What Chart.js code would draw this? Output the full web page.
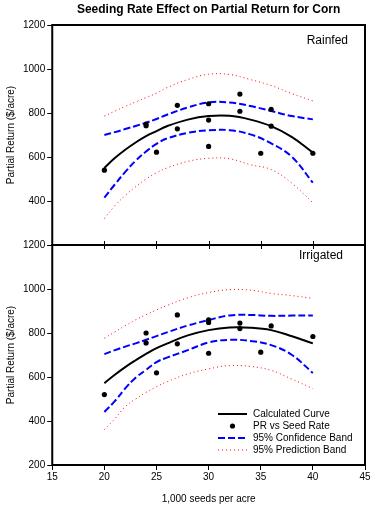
<!DOCTYPE html>
<html><head><meta charset="utf-8">
<script src="https://cdn.jsdelivr.net/npm/chart.js@4.4.1/dist/chart.umd.min.js"></script>
<style>html,body{margin:0;padding:0;background:#fff;}canvas{display:block;}</style>
</head><body>
<canvas id="c" width="384" height="505"></canvas>
<script>
// ---- data ----
const curveX = [20,21,22,23,24,25,26,28,30,32,34,36,38,40];

const rainCurve   = [550,595,633,666,695,718,740,770,786,787,770,740,690,620];
const rainUpperCB = [700,713,727,741,756,773,792,825,848,848,832,809,786,771];
const rainLowerCB = [415,475,532,583,625,660,684,710,721,722,703,662,600,483];
const rainUpperPB = [786,808,830,850,870,890,915,952,976,975,952,925,888,855];
const rainLowerPB = [320,378,425,465,500,528,550,580,594,592,565,543,480,392];
const rainPtX = [20,24,24,25,27,27,30,30,30,33,33,35,36,36,40];
const rainPtY = [540,742,750,622,835,728,842,768,648,886,808,617,817,740,617];

const irrCurve   = [572,610,645,676,705,731,752,789,813,825,824,813,785,753];
const irrUpperCB = [704,722,738,753,769,786,803,834,859,880,882,878,879,880];
const irrLowerCB = [441,490,548,597,632,668,688,722,757,769,764,745,700,618];
const irrUpperPB = [776,805,833,860,883,905,925,960,984,997,995,980,970,957];
const irrLowerPB = [361,410,465,500,530,556,578,614,637,652,648,630,590,547];
const irrPtX = [20,24,24,25,27,27,30,30,30,33,33,35,36,40];
const irrPtY = [520,800,755,619,882,751,860,848,708,845,820,713,832,784];

const xTicks = [15,20,25,30,35,40,45];
const yTicks = [200,400,600,800,1000,1200];

const titleText = 'Seeding Rate Effect on Partial Return for Corn';
const yTitle = 'Partial Return ($/acre)';
const xTitle = '1,000 seeds per acre';
const panelNames = ['Rainfed','Irrigated'];
const legendLabels = ['Calculated Curve','PR vs Seed Rate','95% Confidence Band','95% Prediction Band'];

// ---- styles ----
const FONT = '"Liberation Sans", Arial, sans-serif';
const styles = {
  curve: {borderColor:'#000', borderWidth:2, borderDash:[]},
  cb:    {borderColor:'#0000ff', borderWidth:2, borderDash:[7,3]},
  pb:    {borderColor:'#ff0000', borderWidth:1, borderDash:[1,3]}
};
function pts(xs, ys){ return xs.map((x,i)=>({x:x, y:ys[i]})); }
function lineDs(ys, axis, st){
  return Object.assign({type:'line', data:pts(curveX, ys), yAxisID:axis, xAxisID:'x',
    pointRadius:0, tension:0.4, fill:false}, st);
}
function ptDs(xs, ys, axis){
  return {type:'scatter', data:pts(xs, ys), yAxisID:axis, xAxisID:'x', showLine:false,
    pointRadius:2.6, pointBackgroundColor:'#000', pointBorderColor:'#000', pointBorderWidth:0};
}
const datasets = [
  ptDs(rainPtX, rainPtY, 'yTop'),
  lineDs(rainCurve, 'yTop', styles.curve),
  lineDs(rainUpperCB, 'yTop', styles.cb),
  lineDs(rainLowerCB, 'yTop', styles.cb),
  lineDs(rainUpperPB, 'yTop', styles.pb),
  lineDs(rainLowerPB, 'yTop', styles.pb),
  ptDs(irrPtX, irrPtY, 'yBot'),
  lineDs(irrCurve, 'yBot', styles.curve),
  lineDs(irrUpperCB, 'yBot', styles.cb),
  lineDs(irrLowerCB, 'yBot', styles.cb),
  lineDs(irrUpperPB, 'yBot', styles.pb),
  lineDs(irrLowerPB, 'yBot', styles.pb)
];

function yAxis(hideBottom){
  return {
    type:'linear', axis:'y', position:'left', stack:'panels', stackWeight:1,
    min:200, max:1200,
    afterBuildTicks: s => { s.ticks = yTicks.map(v=>({value:v})); },
    ticks:{font:{family:FONT,size:10}, color:'#000', padding:2,
      callback: v => (hideBottom && v===200) ? '' : String(v)},
    grid:{drawOnChartArea:false, drawTicks:true, tickLength:5, color:'#000', tickColor:'#000', lineWidth:1},
    border:{display:false},
    title:{display:true, text:yTitle, color:'#000', font:{family:FONT,size:10}, padding:{top:0,bottom:4}}
  };
}

const framePlugin = {
  id:'frame',
  afterDraw(chart){
    const {ctx, chartArea:a, scales} = chart;
    const top = scales.yTop, bot = scales.yBot, x = scales.x;
    ctx.save();
    ctx.strokeStyle = '#000';
    ctx.lineWidth = 2;
    [top, bot].forEach(s => ctx.strokeRect(a.left, s.top, a.right - a.left, s.bottom - s.top));
    // ticks at the junction between panels
    ctx.lineWidth = 1;
    const j = top.bottom;
    xTicks.slice(1, -1).forEach(v => {
      const px = Math.round(x.getPixelForValue(v)) + 0.5;
      ctx.beginPath(); ctx.moveTo(px, j - 4); ctx.lineTo(px, j + 4); ctx.stroke();
    });
    // chart title
    ctx.fillStyle = '#000';
    ctx.textAlign = 'center'; ctx.textBaseline = 'middle';
    ctx.font = 'bold 12px ' + FONT;
    ctx.fillText(titleText, (a.left + a.right) / 2, 10);
    // panel labels
    ctx.font = '12px ' + FONT;
    ctx.textAlign = 'right';
    ctx.fillText(panelNames[0], a.right - 17, top.top + 16);
    ctx.fillText(panelNames[1], a.right - 22, bot.top + 11);
    // legend
    ctx.font = '10px ' + FONT;
    ctx.textAlign = 'left';
    const lx0 = a.right - 147, lx1 = a.right - 118, tx = a.right - 112;
    const rowsY = [a.bottom - 51, a.bottom - 39, a.bottom - 27, a.bottom - 15];
    const kinds = [styles.curve, null, styles.cb, styles.pb];
    rowsY.forEach((ry, i) => {
      const st = kinds[i];
      if (st) {
        ctx.save();
        ctx.strokeStyle = st.borderColor; ctx.lineWidth = st.borderWidth; ctx.setLineDash(st.borderDash);
        ctx.beginPath(); ctx.moveTo(lx0, ry); ctx.lineTo(lx1, ry); ctx.stroke();
        ctx.restore();
      } else {
        ctx.beginPath(); ctx.arc((lx0 + lx1) / 2, ry, 2.6, 0, Math.PI * 2); ctx.fill();
      }
      ctx.fillText(legendLabels[i], tx, ry);
    });
    ctx.restore();
  }
};

new Chart(document.getElementById('c'), {
  data:{datasets:datasets},
  options:{
    responsive:false, animation:false, devicePixelRatio:1,
    layout:{padding:{top:25, right:19, left:5, bottom:0}},
    plugins:{legend:{display:false}, tooltip:{enabled:false}, title:{display:false}},
    events:[],
    scales:{
      x:{type:'linear', position:'bottom', min:15, max:45,
        afterBuildTicks: s => { s.ticks = xTicks.map(v=>({value:v})); },
        ticks:{font:{family:FONT,size:10}, color:'#000', padding:1, autoSkip:false, maxRotation:0},
        grid:{drawOnChartArea:false, drawTicks:true, tickLength:5, color:'#000', tickColor:'#000'},
        border:{display:false},
        title:{display:true, text:xTitle, color:'#000', font:{family:FONT,size:10}, padding:{top:9,bottom:0}}
      },
      yBot: yAxis(false),
      yTop: yAxis(true)
    }
  },
  plugins:[framePlugin]
});
</script>
</body></html>
